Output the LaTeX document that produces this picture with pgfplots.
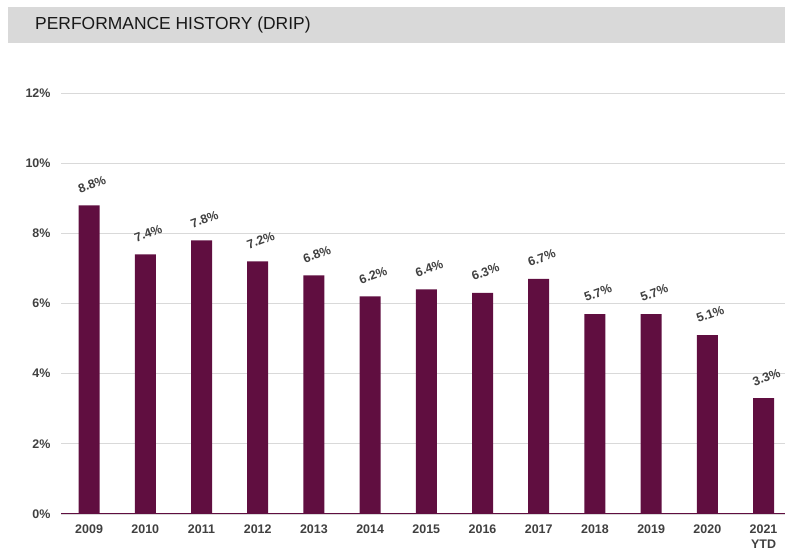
\documentclass[border=0pt]{standalone}
\usepackage{pgfplots}
\pgfplotsset{compat=1.18}
\usepackage{fontspec}
\setmainfont{Liberation Sans}
\definecolor{barc}{RGB}{96,14,64}
\definecolor{txtc}{RGB}{64,64,64}
\definecolor{gridc}{RGB}{217,217,217}
\definecolor{titlebg}{RGB}{217,217,217}
\begin{document}
\begin{tikzpicture}[x=1bp,y=1bp]
\path[use as bounding box] (0,0) rectangle (785,551);
\fill[titlebg] (8,508) rectangle (785,544);
\node[anchor=west,inner sep=0pt,font=\fontsize{17.5}{20}\selectfont,text=black!90] at (35,526) {PERFORMANCE HISTORY (DRIP)};
\begin{axis}[
  at={(61bp,37bp)}, anchor=south west,
  scale only axis, width=725bp, height=421bp,
  xmin=-0.5, xmax=12.4, ymin=0, ymax=12,
  ytick={0,2,4,6,8,10,12},
  yticklabels={0\%,2\%,4\%,6\%,8\%,10\%,12\%},
  yticklabel style={font=\bfseries\fontsize{12.5}{14}\selectfont, text=txtc, xshift=-7bp},
  xtick={0,...,12},
  xticklabels={2009,2010,2011,2012,2013,2014,2015,2016,2017,2018,2019,2020,{2021\\YTD}},
  xticklabel style={font=\bfseries\fontsize{12.5}{15}\selectfont, text=txtc, align=center, anchor=north, yshift=-7bp},
  major tick length=0pt,
  ymajorgrids, grid style={gridc, line width=0.8bp},
  axis line style={draw=none},
  ybar, bar width=21bp,
  point meta=explicit symbolic,
  nodes near coords,
  every node near coord/.append style={xshift=3bp, yshift=21bp, rotate=20, anchor=center, inner sep=0pt, font=\bfseries\fontsize{12.5}{14}\selectfont, text=txtc},
  clip=false,
]
\addplot[fill=barc, draw=none] coordinates {
(0,8.8) [8.8\%] (1,7.4) [7.4\%] (2,7.8) [7.8\%] (3,7.2) [7.2\%] (4,6.8) [6.8\%] (5,6.2) [6.2\%] (6,6.4) [6.4\%] (7,6.3) [6.3\%] (8,6.7) [6.7\%] (9,5.7) [5.7\%] (10,5.7) [5.7\%] (11,5.1) [5.1\%] (12,3.3) [3.3\%]
};
\draw[barc, line width=1bp] (axis cs:-0.5,0) -- (axis cs:12.4,0);
\end{axis}
\end{tikzpicture}
\end{document}
